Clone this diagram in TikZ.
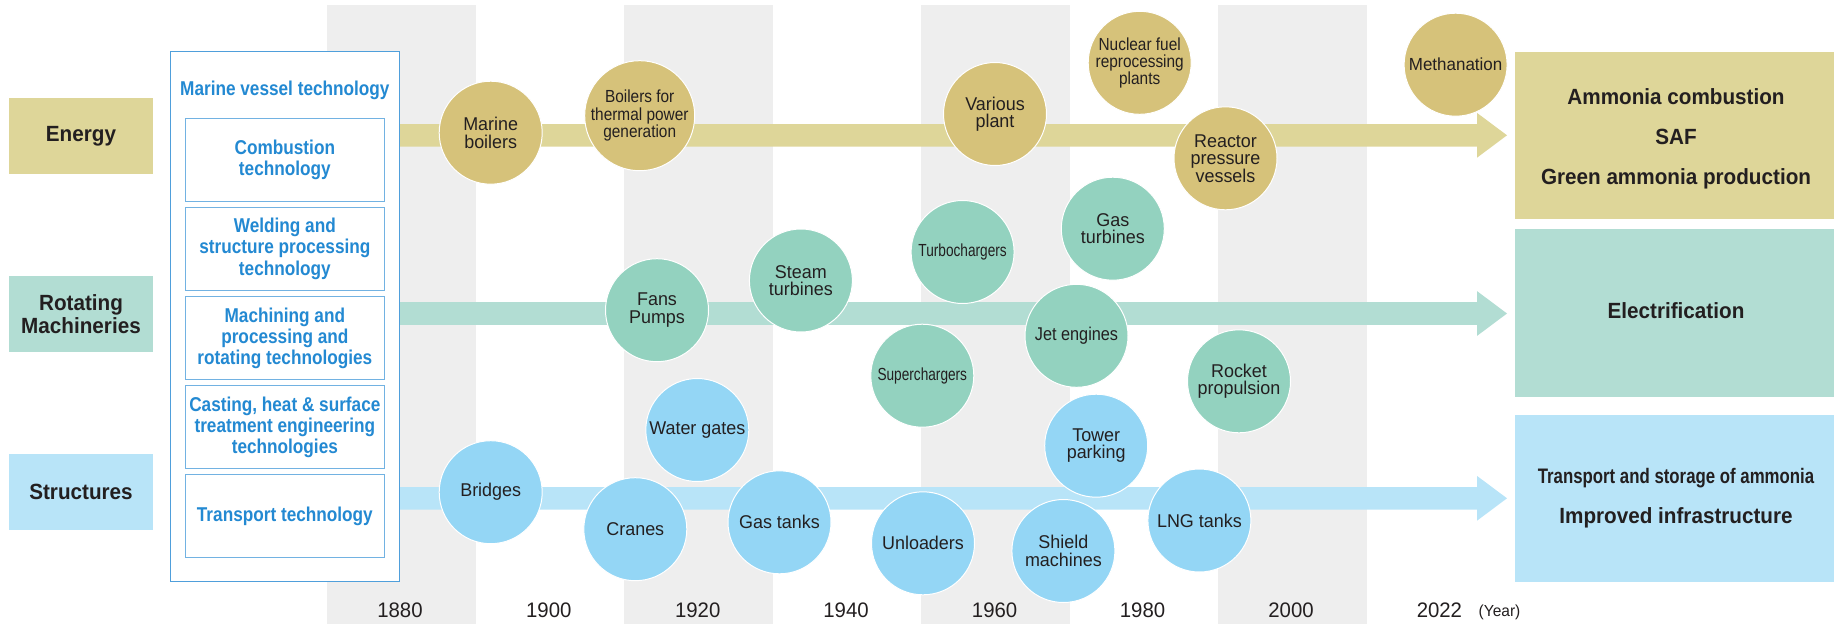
\documentclass[tikz,border=0pt]{standalone}
\usepackage{fontspec}
\setmainfont{Liberation Sans}
\newfontfamily\fC{Liberation Sans}[FakeStretch=0.97]
\newfontfamily\fCn{Liberation Sans}[FakeStretch=0.88]
\newfontfamily\fCc{Liberation Sans}[FakeStretch=0.78]
\newfontfamily\fB{Liberation Sans}[FakeStretch=0.86]
\newfontfamily\fL{Liberation Sans}[FakeStretch=0.94]
\newfontfamily\fN{Liberation Sans}[FakeStretch=0.80]
\usetikzlibrary{calc}
\definecolor{eBox}{HTML}{DED699}
\definecolor{eCirc}{HTML}{D6C27A}
\definecolor{rBox}{HTML}{B2DDD3}
\definecolor{rCirc}{HTML}{93D2BF}
\definecolor{sBox}{HTML}{B8E4F8}
\definecolor{sCirc}{HTML}{94D6F5}
\definecolor{stripe}{HTML}{EEEEEE}
\definecolor{blueTxt}{HTML}{2389D2}
\definecolor{blueLine}{HTML}{4F9FDB}
\definecolor{txt}{HTML}{231F20}
\newcommand\tlarrow[3]{%
  \fill[#1] ($(#2)+(0,-11.3)$) -- ($(#3)+(-30,-11.3)$) -- ($(#3)+(-30,-22.4)$) -- (#3)
    -- ($(#3)+(-30,22.4)$) -- ($(#3)+(-30,11.3)$) -- ($(#2)+(0,11.3)$) -- cycle;}
\tikzset{
  circ/.style={circle, draw=white, line width=1pt, minimum size=103pt, inner sep=0pt,
    align=center, text=txt, font=\fC\fontsize{18.5}{17.5}\selectfont},
  ecirc/.style={circ, fill=eCirc},
  rcirc/.style={circ, fill=rCirc},
  scirc/.style={circ, fill=sCirc},
  narrowtxt/.style={font=\fCn\fontsize{17.5}{17.3}\selectfont},
  condtxt/.style={font=\fCc\fontsize{17.5}{17.3}\selectfont},
  catbox/.style={minimum width=144pt, minimum height=76pt, inner sep=0pt, outer sep=0pt,
    align=center, text=txt, font=\fL\bfseries\fontsize{22}{23.4}\selectfont},
  techbox/.style={draw=blueLine!80, line width=1.2pt, fill=white, minimum width=198.9pt,
    minimum height=83.3pt, inner sep=0pt, align=center, text=blueTxt,
    font=\fB\bfseries\fontsize{20}{21.3}\selectfont},
  goalbox/.style={minimum width=319pt, inner sep=0pt, outer sep=0pt},
  goaltxt/.style={align=center, text=txt, inner sep=0pt, font=\fL\bfseries\fontsize{22}{40}\selectfont},
  yearlbl/.style={text=txt, font=\fC\fontsize{21}{21}\selectfont, inner sep=0pt},
}
\begin{document}
\begin{tikzpicture}[x=1pt,y=-1pt]
\useasboundingbox (0,0) rectangle (1834,624);
% decade stripes
\fill[stripe] (327,5) rectangle (476,624);
\fill[stripe] (624,5) rectangle (773,624);
\fill[stripe] (921,5) rectangle (1070,624);
\fill[stripe] (1218,5) rectangle (1367,624);
% timeline arrows
\coordinate (eA) at (399,135.3);  \coordinate (eB) at (1507,135.3);
\coordinate (rA) at (399,313.5);  \coordinate (rB) at (1507,313.5);
\coordinate (sA) at (399,498.3);  \coordinate (sB) at (1507,498.3);
\tlarrow{eBox}{eA}{eB}
\tlarrow{rBox}{rA}{rB}
\tlarrow{sBox}{sA}{sB}
% technology frame
\node[draw=blueLine, line width=1.5pt, fill=white, minimum width=229pt, minimum height=530.4pt,
  inner sep=0pt, outer sep=0pt] (frame) at (284.9,316.5) {};
\node[text=blueTxt, font=\fB\bfseries\fontsize{20}{21}\selectfont, inner sep=0pt] (ftitle) at (284.9,90.7) {Marine vessel technology};
\node[techbox] (t1) at (284.85,160) {Combustion\\technology};
\node[techbox] (t2) at (284.85,248.8) {Welding and\\structure processing\\technology};
\node[techbox] (t3) at (284.85,338.2) {Machining and\\processing and\\rotating technologies};
\node[techbox] (t4) at (284.85,427.2) {Casting, heat \& surface\\treatment engineering\\technologies};
\node[techbox] (t5) at (284.85,516) {Transport technology};
% category labels
\node[catbox, fill=eBox] (eL) at (81,136) {Energy};
\node[catbox, fill=rBox] (rL) at (81,314) {Rotating\\Machineries};
\node[catbox, fill=sBox] (sL) at (81,492) {Structures};
% energy circles
\node[ecirc] (e1) at (490.7,132.7) {Marine\\boilers};
\node[ecirc, narrowtxt] (e2) at (639.7,115.7) {Boilers for\\thermal power\\generation};
\node[ecirc] (e3) at (995,114) {Various\\plant};
\node[ecirc, narrowtxt] (e4) at (1139.7,62.8) {Nuclear fuel\\reprocessing\\plants};
\node[ecirc] (e5) at (1225.5,158.3) {Reactor\\pressure\\vessels};
\node[ecirc, font=\fC\fontsize{17.5}{17.3}\selectfont] (e6) at (1455.6,64.7) {Methanation};
% rotating circles
\node[rcirc] (r1) at (657,310.2) {Fans\\Pumps};
\node[rcirc] (r2) at (800.9,280.5) {Steam\\turbines};
\node[rcirc, condtxt] (r3) at (962.6,252) {Turbochargers};
\node[rcirc] (r4) at (1112.8,228.7) {Gas\\turbines};
\node[rcirc, font=\fCn\fontsize{18.5}{17.5}\selectfont] (r5) at (1076.5,335.8) {Jet engines};
\node[rcirc, condtxt] (r6) at (922.3,375.7) {Superchargers};
\node[rcirc] (r7) at (1239,381.3) {Rocket\\propulsion};
% structure circles
\node[scirc] (s1) at (490.7,492.2) {Bridges};
\node[scirc] (s2) at (697.3,430) {Water gates};
\node[scirc] (s3) at (635.3,529.2) {Cranes};
\node[scirc] (s4) at (779.5,522.3) {Gas tanks};
\node[scirc] (s5) at (923,543.3) {Unloaders};
\node[scirc] (s6) at (1096.2,445.7) {Tower\\parking};
\node[scirc] (s7) at (1063.4,551) {Shield\\machines};
\node[scirc] (s8) at (1199.4,520.5) {LNG tanks};
% goal boxes
\node[goalbox, fill=eBox, minimum height=167.3pt] (eG) at (1674.5,135.35) {};
\node[goalbox, fill=rBox, minimum height=167.4pt] (rG) at (1674.5,313) {};
\node[goalbox, fill=sBox, minimum height=166.7pt] (sG) at (1674.5,498.35) {};
\node[goaltxt] (eGt) at (1676,139) {Ammonia combustion\\SAF\\Green ammonia production};
\node[goaltxt] (rGt) at (1676,310.7) {Electrification};
\node[goaltxt] (sGt) at (1676,498) {{\fN\fontsize{21}{39.4}\selectfont Transport and storage of ammonia}\\Improved infrastructure};
% years
\node[yearlbl] (y1880) at (400,610.7) {1880};
\node[yearlbl] (y1900) at (548.8,610.7) {1900};
\node[yearlbl] (y1920) at (697.7,610.7) {1920};
\node[yearlbl] (y1940) at (846,610.7) {1940};
\node[yearlbl] (y1960) at (994.6,610.7) {1960};
\node[yearlbl] (y1980) at (1142.5,610.7) {1980};
\node[yearlbl] (y2000) at (1291,610.7) {2000};
\node[yearlbl] (y2022) at (1439.4,610.7) {2022};
\node[text=txt, font=\fC\fontsize{16}{16}\selectfont, inner sep=0pt] (yr) at (1499.5,612) {(Year)};
\end{tikzpicture}
\end{document}
